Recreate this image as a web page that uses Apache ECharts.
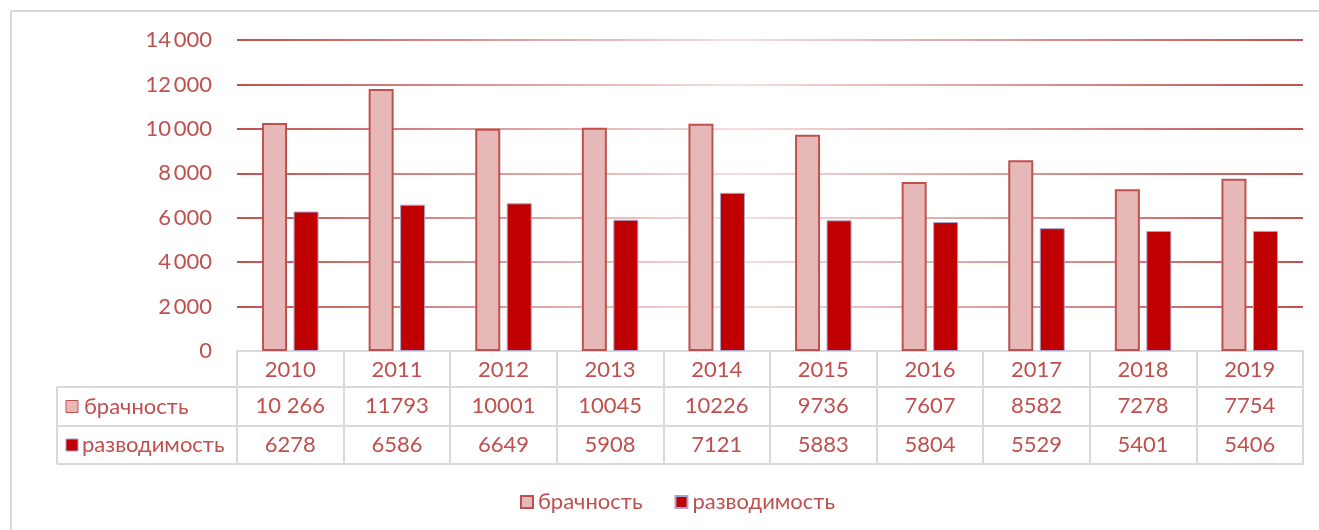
<!DOCTYPE html>
<html>
<head>
<meta charset="utf-8">
<script src="https://cdn.jsdelivr.net/npm/echarts@6/dist/echarts.min.js"></script>
<style>
  html, body { margin: 0; padding: 0; background: #fff; }
  #chart { width: 1319px; height: 530px; }
</style>
</head>
<body>
<div id="chart"></div>
<script>
// годы и показатели
const years = ['2010', '2011', '2012', '2013', '2014', '2015', '2016', '2017', '2018', '2019'];
const marriage = [10266, 11793, 10001, 10045, 10226, 9736, 7607, 8582, 7278, 7754];
const divorce = [6278, 6586, 6649, 5908, 7121, 5883, 5804, 5529, 5401, 5406];
// подписи таблицы данных, как на рисунке
const marriageLabels = ['10 266', '11793', '10001', '10045', '10226', '9736', '7607', '8582', '7278', '7754'];
const divorceLabels = ['6278', '6586', '6649', '5908', '7121', '5883', '5804', '5529', '5401', '5406'];
const seriesNames = ['брачность', 'разводимость'];

const chart = echarts.init(document.getElementById('chart'));

const FONT = 'Lato, "Open Sans", sans-serif';
const FS = 22;
const TEXT = '#c0504d';
const CELL = '#d9d9d9';

// геометрия таблицы
const gridLeft = 237, gridRight = 16, gridTop = 40, gridBottom = 179;
const axisY = 530 - gridBottom;
const rowH = [36, 39, 38];
const tableLeft = 57;

function tableAxis(offset, tickLen, formatter, showLabel) {
    return {
        type: 'category',
        data: years,
        position: 'bottom',
        offset: offset,
        gridIndex: 0,
        axisLine: { show: true, lineStyle: { color: CELL, width: 2 } },
        axisTick: { show: tickLen > 0, length: tickLen, interval: 0, lineStyle: { color: CELL, width: 2 } },
        axisLabel: {
            show: showLabel,
            interval: 0,
            margin: 8,
            color: TEXT,
            fontSize: FS,
            fontFamily: FONT,
            formatter: formatter
        },
        splitLine: { show: false }
    };
}

const row1 = axisY + rowH[0];
const row2 = row1 + rowH[1];
const row3 = row2 + rowH[2];

const option = {
    animation: false,
    textStyle: { fontFamily: FONT },
    grid: { left: gridLeft, right: gridRight, top: gridTop, bottom: gridBottom },
    legend: {
        data: seriesNames,
        left: 515,
        top: 486,
        itemWidth: 12,
        itemHeight: 12,
        itemGap: 32,
        icon: 'rect',
        textStyle: { color: TEXT, fontSize: FS, fontFamily: FONT }
    },
    xAxis: [
        tableAxis(0, rowH[0], v => v, true),
        tableAxis(rowH[0], rowH[1], (v, i) => marriageLabels[i], true),
        tableAxis(rowH[0] + rowH[1], rowH[2], (v, i) => divorceLabels[i], true),
        tableAxis(rowH[0] + rowH[1] + rowH[2], 0, v => '', false)
    ],
    yAxis: {
        type: 'value',
        min: 0,
        max: 14000,
        interval: 2000,
        axisLine: { show: false },
        axisTick: { show: false },
        axisLabel: {
            color: TEXT,
            fontSize: FS,
            fontFamily: FONT,
            margin: 25,
            formatter: v => v >= 1000 ? Math.floor(v / 1000) + '\u2009' + String(v % 1000).padStart(3, '0') : String(v)
        },
        splitLine: {
            lineStyle: {
                width: 2,
                color: new echarts.graphic.LinearGradient(0, 0, 1, 0, [
                    { offset: 0, color: '#c0504d' },
                    { offset: 0.47, color: '#f4e0df' },
                    { offset: 1, color: '#c0504d' }
                ])
            }
        }
    },
    series: [
        {
            name: seriesNames[0],
            type: 'bar',
            data: marriage,
            barWidth: 25,
            barGap: '26%',
            itemStyle: { color: '#e6b9b8', borderColor: '#c0504d', borderWidth: 2 }
        },
        {
            name: seriesNames[1],
            type: 'bar',
            data: divorce,
            barWidth: 25,
            itemStyle: { color: '#c00000', borderColor: '#a7a3cc', borderWidth: 1 }
        }
    ],
    graphic: [
        // внешняя рамка
        { type: 'rect', shape: { x: 11, y: 11, width: 1400, height: 600 }, style: { fill: 'none', stroke: CELL, lineWidth: 2 }, silent: true },
        // левая колонка таблицы
        { type: 'line', shape: { x1: tableLeft, y1: row1, x2: gridLeft, y2: row1 }, style: { stroke: CELL, lineWidth: 2 } },
        { type: 'line', shape: { x1: tableLeft, y1: row2, x2: gridLeft, y2: row2 }, style: { stroke: CELL, lineWidth: 2 } },
        { type: 'line', shape: { x1: tableLeft, y1: row3, x2: gridLeft, y2: row3 }, style: { stroke: CELL, lineWidth: 2 } },
        { type: 'line', shape: { x1: tableLeft, y1: row1, x2: tableLeft, y2: row3 }, style: { stroke: CELL, lineWidth: 2 } },
        { type: 'rect', shape: { x: 66, y: (row1 + row2) / 2 - 6, width: 12, height: 12 }, style: { fill: '#e6b9b8', stroke: '#c0504d', lineWidth: 1 } },
        { type: 'text', x: 84, y: (row1 + row2) / 2, style: { text: seriesNames[0], fill: TEXT, fontSize: FS, fontFamily: FONT, verticalAlign: 'middle' } },
        { type: 'rect', shape: { x: 66, y: (row2 + row3) / 2 - 6, width: 12, height: 12 }, style: { fill: '#c00000', stroke: '#a7a3cc', lineWidth: 1 } },
        { type: 'text', x: 82, y: (row2 + row3) / 2, style: { text: seriesNames[1], fill: TEXT, fontSize: FS, fontFamily: FONT, verticalAlign: 'middle' } }
    ]
};

chart.setOption(option);
</script>
</body>
</html>
